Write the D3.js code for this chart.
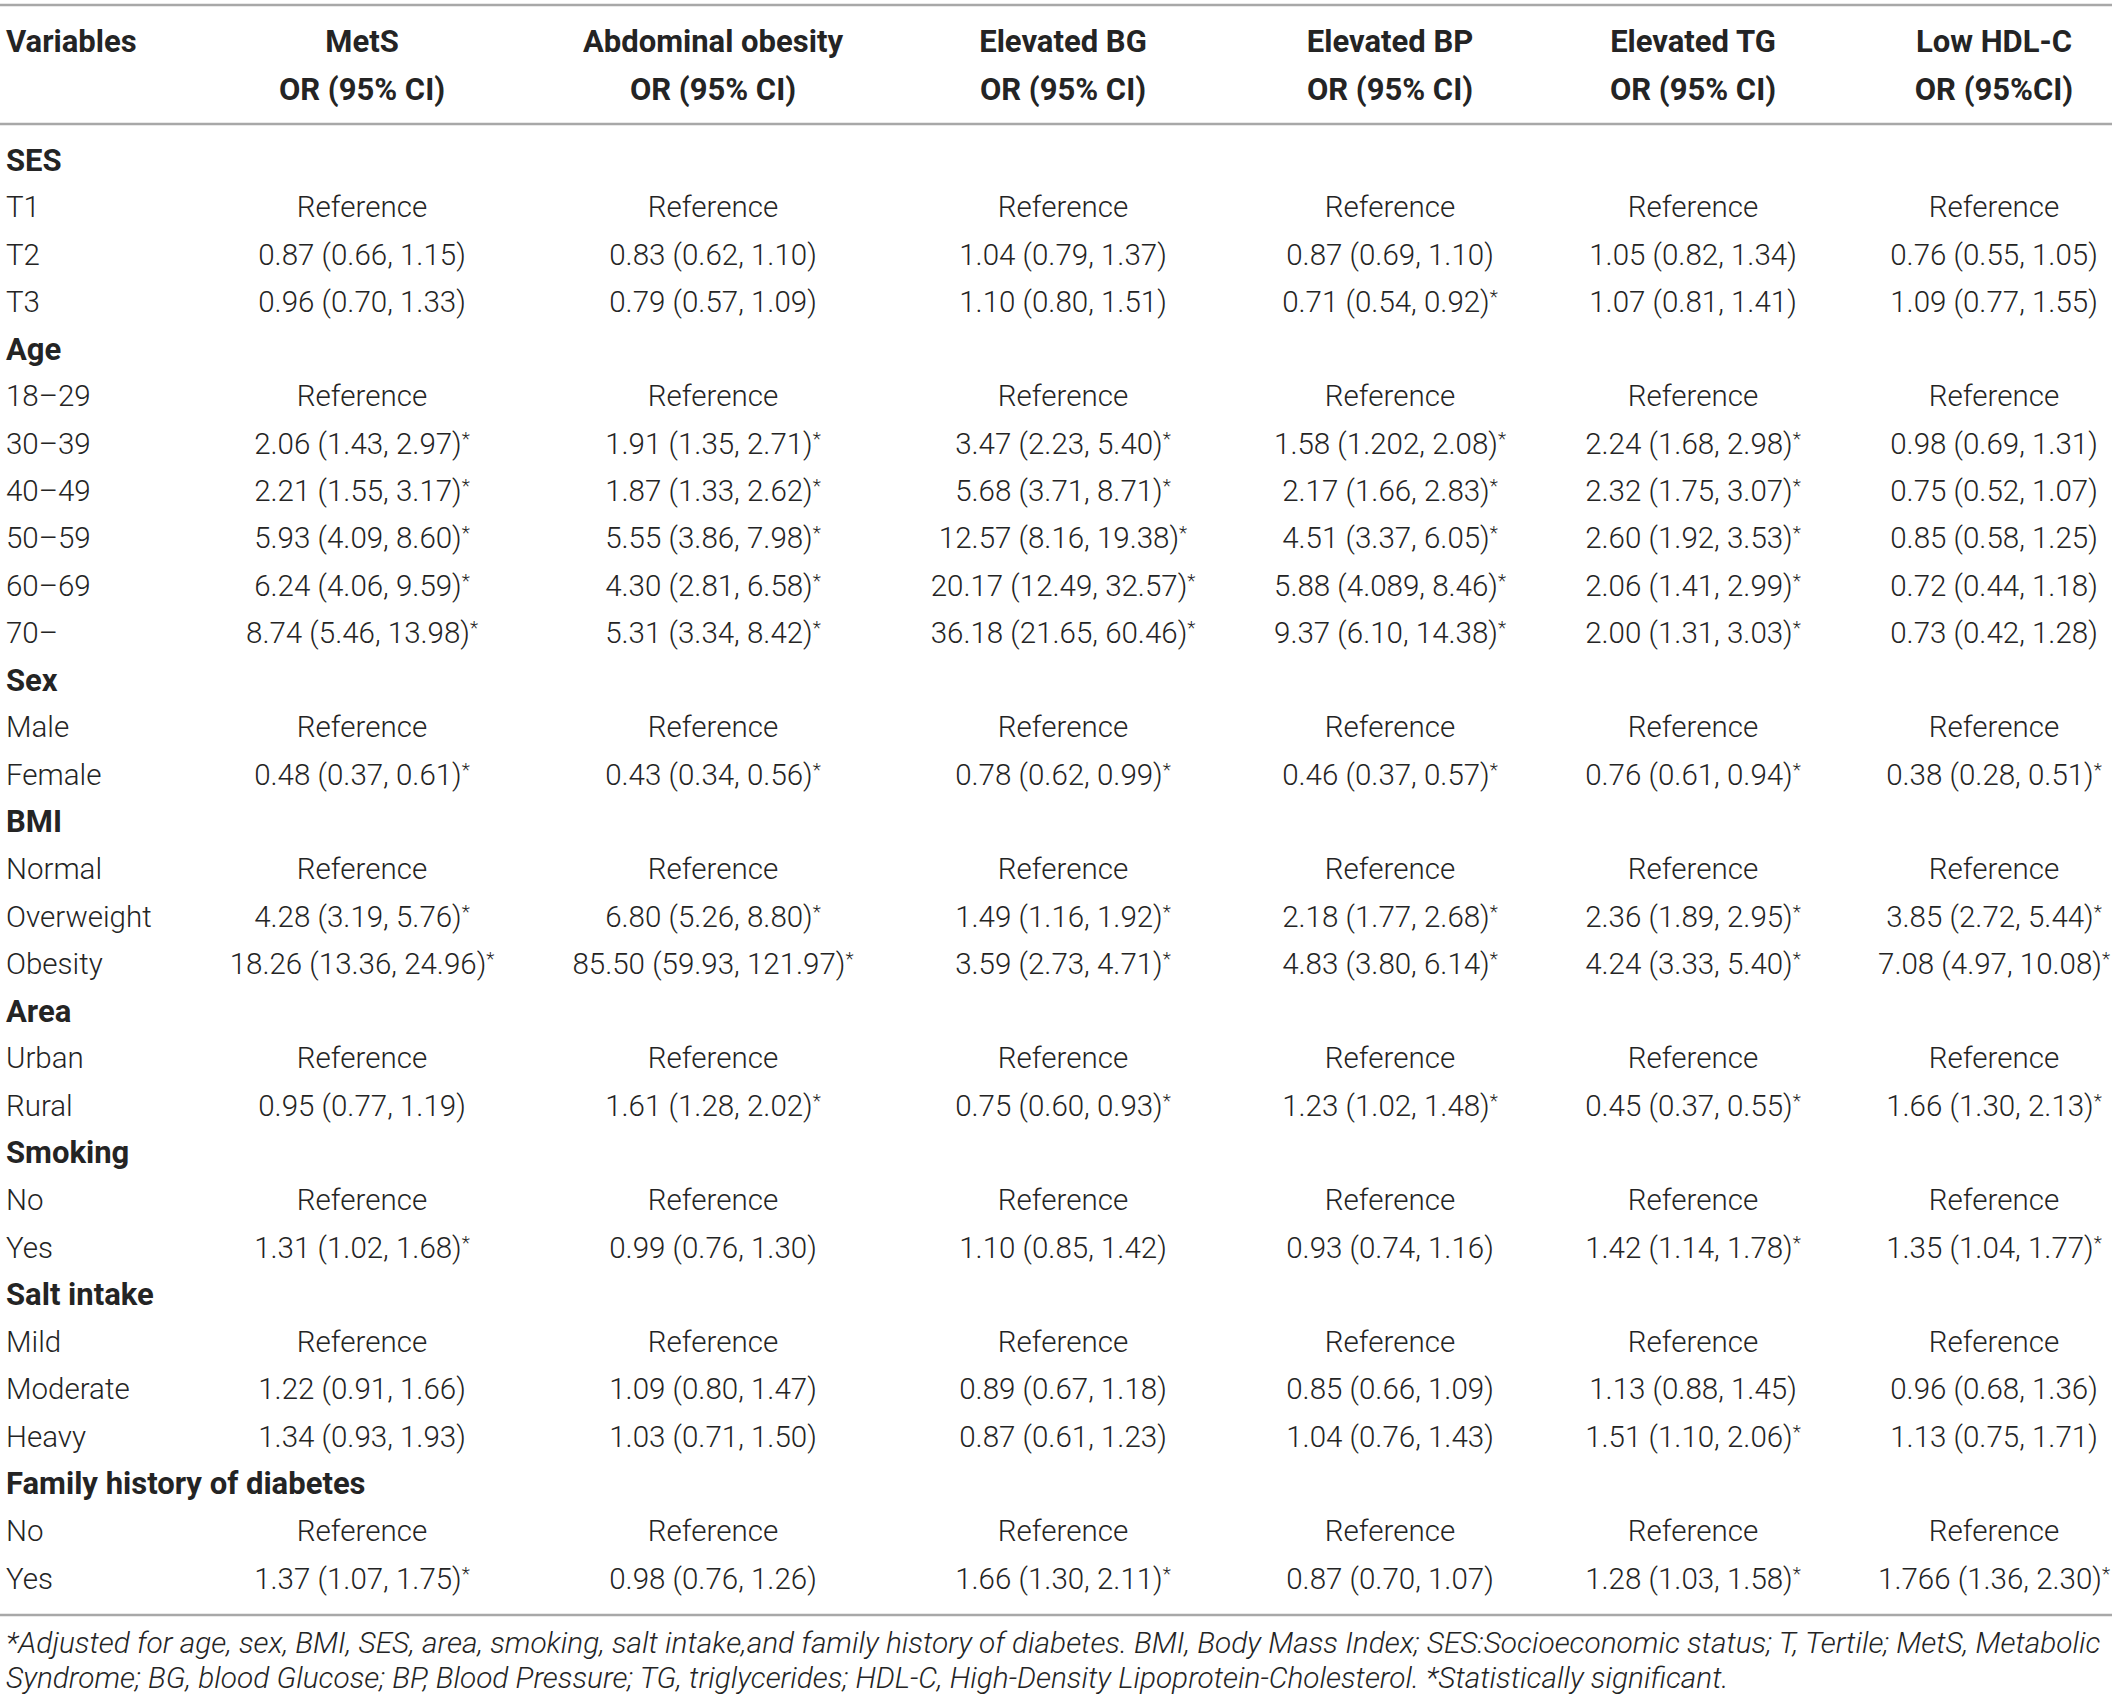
<!DOCTYPE html>
<html lang="en">

<head>
    <title>Odds ratios for MetS and its components</title>
    <meta charset="utf-8">
    <script src="https://d3js.org/d3.v7.min.js"></script>
    <style>
        html, body { margin: 0; padding: 0; background: #fff; }
        text { font-family: Roboto, "Liberation Sans", sans-serif; fill: #242424; }
        .cell { font-size: 29.5px; font-weight: 300; }
        .group, .head { font-size: 31px; font-weight: 700; }
        .note { font-size: 29.8px; font-weight: 300; font-style: italic; }
    </style>
</head>

<body>
    <div id="container"></div>
    <script>
        // Data
        const columns = ["MetS", "Abdominal obesity", "Elevated BG", "Elevated BP", "Elevated TG", "Low HDL-C"];
        const subHeaders = ["OR (95% CI)", "OR (95% CI)", "OR (95% CI)", "OR (95% CI)", "OR (95% CI)", "OR (95%CI)"];

        // row labels, "g" = group heading
        const rowLabels = ["SES", "T1", "T2", "T3", "Age", "18–29", "30–39", "40–49", "50–59", "60–69", "70–",
            "Sex", "Male", "Female", "BMI", "Normal", "Overweight", "Obesity", "Area", "Urban", "Rural",
            "Smoking", "No", "Yes", "Salt intake", "Mild", "Moderate", "Heavy", "Family history of diabetes", "No", "Yes"];
        const rowTypes = ["g", "r", "r", "r", "g", "r", "r", "r", "r", "r", "r",
            "g", "r", "r", "g", "r", "r", "r", "g", "r", "r",
            "g", "r", "r", "g", "r", "r", "r", "g", "r", "r"];

        const R = "Reference";
        const mets = ["", R, "0.87 (0.66, 1.15)", "0.96 (0.70, 1.33)", "", R, "2.06 (1.43, 2.97)*", "2.21 (1.55, 3.17)*", "5.93 (4.09, 8.60)*", "6.24 (4.06, 9.59)*", "8.74 (5.46, 13.98)*",
            "", R, "0.48 (0.37, 0.61)*", "", R, "4.28 (3.19, 5.76)*", "18.26 (13.36, 24.96)*", "", R, "0.95 (0.77, 1.19)",
            "", R, "1.31 (1.02, 1.68)*", "", R, "1.22 (0.91, 1.66)", "1.34 (0.93, 1.93)", "", R, "1.37 (1.07, 1.75)*"];
        const abdominal = ["", R, "0.83 (0.62, 1.10)", "0.79 (0.57, 1.09)", "", R, "1.91 (1.35, 2.71)*", "1.87 (1.33, 2.62)*", "5.55 (3.86, 7.98)*", "4.30 (2.81, 6.58)*", "5.31 (3.34, 8.42)*",
            "", R, "0.43 (0.34, 0.56)*", "", R, "6.80 (5.26, 8.80)*", "85.50 (59.93, 121.97)*", "", R, "1.61 (1.28, 2.02)*",
            "", R, "0.99 (0.76, 1.30)", "", R, "1.09 (0.80, 1.47)", "1.03 (0.71, 1.50)", "", R, "0.98 (0.76, 1.26)"];
        const bg = ["", R, "1.04 (0.79, 1.37)", "1.10 (0.80, 1.51)", "", R, "3.47 (2.23, 5.40)*", "5.68 (3.71, 8.71)*", "12.57 (8.16, 19.38)*", "20.17 (12.49, 32.57)*", "36.18 (21.65, 60.46)*",
            "", R, "0.78 (0.62, 0.99)*", "", R, "1.49 (1.16, 1.92)*", "3.59 (2.73, 4.71)*", "", R, "0.75 (0.60, 0.93)*",
            "", R, "1.10 (0.85, 1.42)", "", R, "0.89 (0.67, 1.18)", "0.87 (0.61, 1.23)", "", R, "1.66 (1.30, 2.11)*"];
        const bp = ["", R, "0.87 (0.69, 1.10)", "0.71 (0.54, 0.92)*", "", R, "1.58 (1.202, 2.08)*", "2.17 (1.66, 2.83)*", "4.51 (3.37, 6.05)*", "5.88 (4.089, 8.46)*", "9.37 (6.10, 14.38)*",
            "", R, "0.46 (0.37, 0.57)*", "", R, "2.18 (1.77, 2.68)*", "4.83 (3.80, 6.14)*", "", R, "1.23 (1.02, 1.48)*",
            "", R, "0.93 (0.74, 1.16)", "", R, "0.85 (0.66, 1.09)", "1.04 (0.76, 1.43)", "", R, "0.87 (0.70, 1.07)"];
        const tg = ["", R, "1.05 (0.82, 1.34)", "1.07 (0.81, 1.41)", "", R, "2.24 (1.68, 2.98)*", "2.32 (1.75, 3.07)*", "2.60 (1.92, 3.53)*", "2.06 (1.41, 2.99)*", "2.00 (1.31, 3.03)*",
            "", R, "0.76 (0.61, 0.94)*", "", R, "2.36 (1.89, 2.95)*", "4.24 (3.33, 5.40)*", "", R, "0.45 (0.37, 0.55)*",
            "", R, "1.42 (1.14, 1.78)*", "", R, "1.13 (0.88, 1.45)", "1.51 (1.10, 2.06)*", "", R, "1.28 (1.03, 1.58)*"];
        const hdl = ["", R, "0.76 (0.55, 1.05)", "1.09 (0.77, 1.55)", "", R, "0.98 (0.69, 1.31)", "0.75 (0.52, 1.07)", "0.85 (0.58, 1.25)", "0.72 (0.44, 1.18)", "0.73 (0.42, 1.28)",
            "", R, "0.38 (0.28, 0.51)*", "", R, "3.85 (2.72, 5.44)*", "7.08 (4.97, 10.08)*", "", R, "1.66 (1.30, 2.13)*",
            "", R, "1.35 (1.04, 1.77)*", "", R, "0.96 (0.68, 1.36)", "1.13 (0.75, 1.71)", "", R, "1.766 (1.36, 2.30)*"];

        const footnote = [
            "*Adjusted for age, sex, BMI, SES, area, smoking, salt intake,and family history of diabetes. BMI, Body Mass Index; SES:Socioeconomic status; T, Tertile; MetS, Metabolic",
            "Syndrome; BG, blood Glucose; BP, Blood Pressure; TG, triglycerides; HDL-C, High-Density Lipoprotein-Cholesterol. *Statistically significant."
        ];

        const series = [mets, abdominal, bg, bp, tg, hdl];

        // Canvas
        const width = 2118;
        const height = 1701;
        const svg = d3.select("#container")
            .append("svg")
            .attr("width", width)
            .attr("height", height);

        // Scales
        const x = d3.scaleOrdinal()
            .domain(columns)
            .range([362, 713, 1063, 1390, 1693, 1994]);
        const y = d3.scaleLinear()
            .domain([0, rowLabels.length - 1])
            .range([159.5, 1578]);
        const textLeft = 6;
        const shift = 10.5; // baseline offset from row centre
        const shiftBold = 11;

        // Rules
        const rules = [5, 124, 1615];
        svg.selectAll("line.rule")
            .data(rules)
            .enter()
            .append("line")
            .attr("class", "rule")
            .attr("x1", 0)
            .attr("x2", 2112)
            .attr("y1", d => d)
            .attr("y2", d => d)
            .attr("stroke", "#a8a8a8")
            .attr("stroke-width", 2.5);

        // Header
        svg.append("text")
            .attr("class", "head")
            .attr("x", textLeft)
            .attr("y", 41 + shiftBold)
            .text("Variables");

        svg.selectAll("text.colhead")
            .data(columns)
            .enter()
            .append("text")
            .attr("class", "head colhead")
            .attr("x", d => x(d))
            .attr("y", 41 + shiftBold)
            .attr("text-anchor", "middle")
            .text(d => d);

        svg.selectAll("text.subhead")
            .data(subHeaders)
            .enter()
            .append("text")
            .attr("class", "head subhead")
            .attr("x", (d, i) => x(columns[i]))
            .attr("y", 89 + shiftBold)
            .attr("text-anchor", "middle")
            .text(d => d);

        // Row labels
        svg.selectAll("text.rowlabel")
            .data(rowLabels)
            .enter()
            .append("text")
            .attr("class", (d, i) => rowTypes[i] === "g" ? "group rowlabel" : "cell rowlabel")
            .attr("x", textLeft)
            .attr("y", (d, i) => y(i) + (rowTypes[i] === "g" ? shiftBold : shift))
            .text(d => d);

        // Cells
        series.forEach((values, c) => {
            const cells = svg.selectAll(`text.col${c}`)
                .data(values.map((v, i) => ({ v, i })).filter(d => d.v !== ""))
                .enter()
                .append("text")
                .attr("class", `cell col${c}`)
                .attr("x", x(columns[c]))
                .attr("y", d => y(d.i) + shift)
                .attr("text-anchor", "middle");

            cells.append("tspan")
                .text(d => d.v.replace("*", ""));

            cells.filter(d => d.v.endsWith("*"))
                .append("tspan")
                .attr("dy", -9)
                .style("font-size", "19px")
                .text("*");
        });

        // Footnote
        svg.selectAll("text.note")
            .data(footnote)
            .enter()
            .append("text")
            .attr("class", "note")
            .attr("x", textLeft)
            .attr("y", (d, i) => [1643, 1678][i] + 10)
            .text(d => d);
    </script>
</body>

</html>
